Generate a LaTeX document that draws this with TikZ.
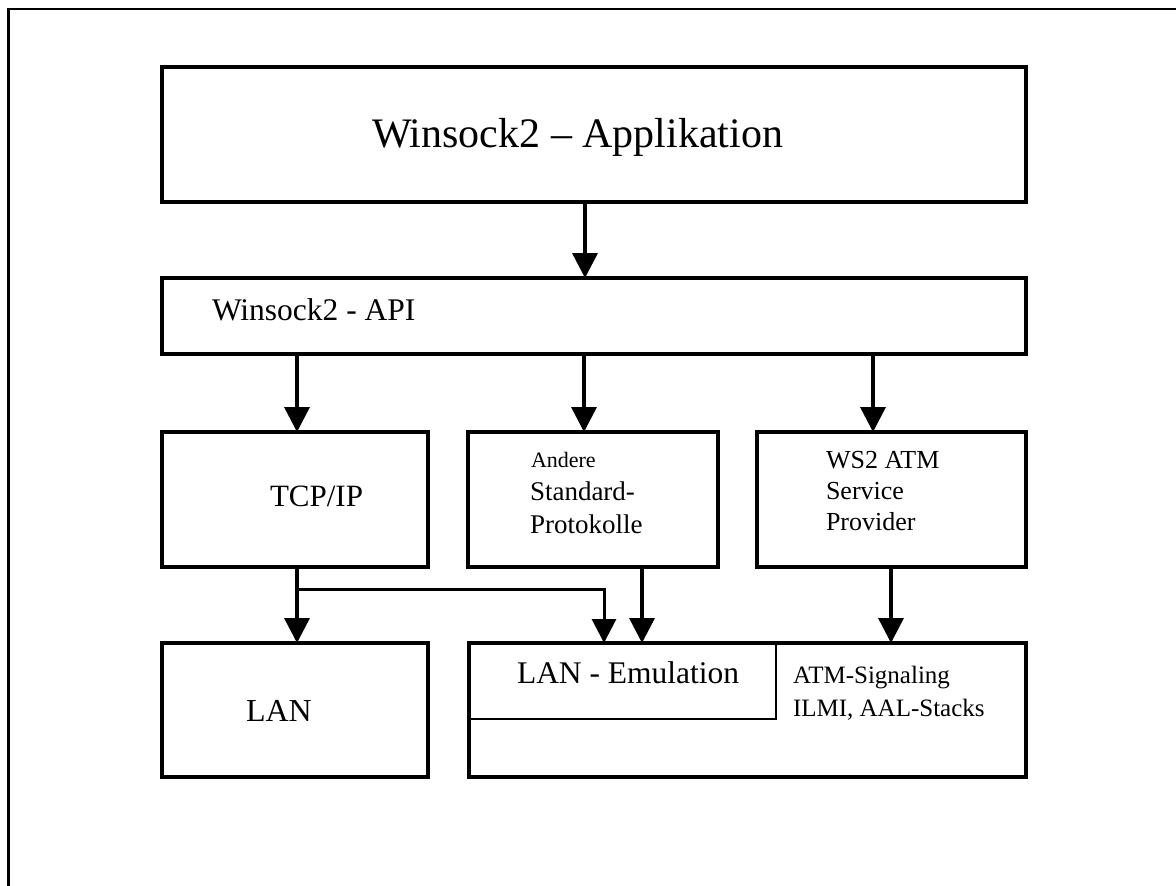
\documentclass[tikz,border=0pt]{standalone}
\usepackage{fontspec}
\setmainfont{Liberation Serif}
\usetikzlibrary{arrows.meta}
\newcommand{\fs}[1]{\fontsize{#1}{#1}\selectfont}
\begin{document}
\begin{tikzpicture}[x=1pt,y=-1pt,
  box/.style={draw,line width=4pt,inner sep=0pt,outer sep=0pt,anchor=north west},
  thinbox/.style={draw,line width=2pt,inner sep=0pt,outer sep=0pt,anchor=north west},
  arr/.style={line width=3.5pt,-{Triangle[length=25pt,width=25pt]}},
  thinarr/.style={line width=3pt,-{Triangle[length=24pt,width=24pt]}},
  lbl/.style={inner sep=0pt,outer sep=0pt,anchor=base west}]
\useasboundingbox (0,0) rectangle (1176,886);
\draw[line width=2.5pt] (8.5,886) -- (8.5,9) -- (1176,9);

% boxes
\node[box,minimum width=864pt,minimum height=135pt] (app) at (162,67) {};
\node[box,minimum width=864pt,minimum height=76pt] (api) at (162,278) {};
\node[box,minimum width=266pt,minimum height=135pt] (tcp) at (162,432) {};
\node[box,minimum width=250pt,minimum height=135pt] (andere) at (468,432) {};
\node[box,minimum width=269pt,minimum height=135pt] (ws2) at (757,432) {};
\node[box,minimum width=266pt,minimum height=134pt] (lan) at (162,643) {};
\node[thinbox,minimum width=307pt,minimum height=76pt] (lane) at (469,643) {};
\node[box,minimum width=557pt,minimum height=134pt] (atm) at (469,643) {};

% texts
\node[lbl,font=\fs{42}] (tapp) at (372,147) {Winsock2 – Applikation};
\node[lbl,font=\fs{31.5}] (tapi) at (212,320) {Winsock2 - API};
\node[lbl,font=\fs{31}] (ttcp) at (270,506) {TCP/IP};
\node[lbl,font=\fs{22}] (tand1) at (531,467) {Andere};
\node[lbl,font=\fs{27}] (tand2) at (530,500) {Standard-};
\node[lbl,font=\fs{27}] (tand3) at (530,533) {Protokolle};
\node[lbl,font=\fs{26}] (tws1) at (826,468) {WS2 ATM};
\node[lbl,font=\fs{26}] (tws2) at (826,499) {Service};
\node[lbl,font=\fs{26}] (tws3) at (826,530) {Provider};
\node[lbl,font=\fs{32}] (tlan) at (246,721) {LAN};
\node[lbl,font=\fs{31.5}] (tlane) at (517,683) {LAN - Emulation};
\node[lbl,font=\fs{25}] (tatm1) at (793,683) {ATM-Signaling};
\node[lbl,font=\fs{25}] (tatm2) at (793,716) {ILMI, AAL-Stacks};

% connectors
\draw[arr] (585,0 |- app.south) -- (585,0 |- api.north);
\draw[arr] (297,0 |- api.south) -- (297,0 |- tcp.north);
\draw[arr] (584,0 |- api.south) -- (584,0 |- andere.north);
\draw[arr] (873,0 |- api.south) -- (873,0 |- ws2.north);
\draw[arr] (297,0 |- tcp.south) -- (297,0 |- lan.north);
\coordinate (branch) at (297,589);
\draw[thinarr] (branch) -- (604,589) -- (604,0 |- atm.north);
\draw[arr] (642,0 |- andere.south) -- (642,0 |- atm.north);
\draw[arr] (891,0 |- ws2.south) -- (891,0 |- atm.north);
\end{tikzpicture}
\end{document}
